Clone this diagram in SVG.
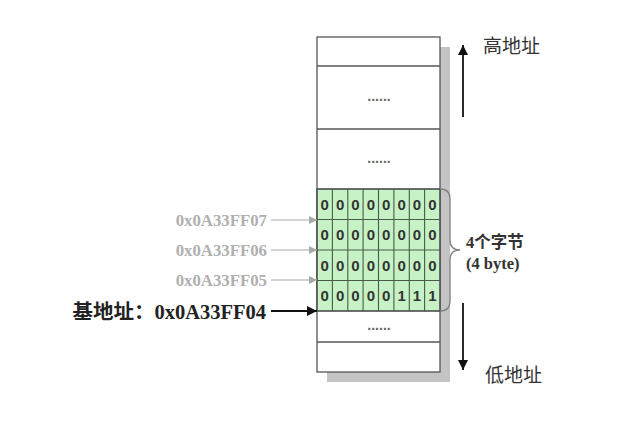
<svg xmlns="http://www.w3.org/2000/svg" width="637" height="434" viewBox="0 0 637 434">
<defs>
<style>
.box{fill:#fff;stroke:#555;stroke-width:1.3}
.cell{fill:#c6f2c6;stroke:#4a5a4a;stroke-width:1.1}
.dig{font-family:"Liberation Sans",Arial,sans-serif;font-weight:bold;font-size:15px;fill:#333;text-anchor:middle}
.dots{font-family:"Liberation Sans",Arial,sans-serif;font-weight:bold;font-size:14px;fill:#666;text-anchor:middle}
.addr{font-family:"Liberation Serif","Times New Roman",serif;font-weight:bold;font-size:16.8px;fill:#b0b0b0;text-anchor:end}
.base{font-family:"Liberation Serif","Noto Sans CJK SC",serif;font-weight:bold;font-size:20.5px;fill:#222;text-anchor:end}
.lbl{font-family:"Liberation Serif","Noto Sans CJK SC",serif;font-size:19px;fill:#333}
.brace{font-family:"Liberation Serif","Noto Sans CJK SC",serif;font-weight:bold;font-size:16.5px;fill:#333}
.garr{stroke:#a8a8a8;stroke-width:1.2;fill:none}
.barr{stroke:#111;stroke-width:1.8;fill:none}
</style>
<marker id="ag" viewBox="0 0 10 10" refX="10" refY="5" markerWidth="8" markerHeight="8" markerUnits="userSpaceOnUse" orient="auto"><path d="M0,0 L10,5 L0,10 z" fill="#a8a8a8"/></marker>
<marker id="ab" viewBox="0 0 10 10" refX="10" refY="5" markerWidth="10" markerHeight="10" markerUnits="userSpaceOnUse" orient="auto"><path d="M0,0 L10,5 L0,10 z" fill="#111"/></marker>
</defs>
<rect width="637" height="434" fill="#fff"/>
<g id="memory">
<rect x="327" y="47" width="123" height="335" fill="#c4c4c4"/>
<rect class="box" x="317" y="37" width="123" height="335"/>
<line class="box" x1="317" y1="66" x2="440" y2="66"/>
<line class="box" x1="317" y1="129" x2="440" y2="129"/>
<line class="box" x1="317" y1="342" x2="440" y2="342"/>
<text class="dots" x="379" y="101">......</text>
<text class="dots" x="379" y="163">......</text>
<text class="dots" x="379" y="330">......</text>
</g>
<g id="bytes">
<rect class="cell" x="317" y="189" width="123" height="122"/>
<g class="cell">
<line x1="317" y1="219.5" x2="440" y2="219.5"/>
<line x1="317" y1="250" x2="440" y2="250"/>
<line x1="317" y1="280.5" x2="440" y2="280.5"/>
<line x1="332.4" y1="189" x2="332.4" y2="311"/>
<line x1="347.8" y1="189" x2="347.8" y2="311"/>
<line x1="363.1" y1="189" x2="363.1" y2="311"/>
<line x1="378.5" y1="189" x2="378.5" y2="311"/>
<line x1="393.9" y1="189" x2="393.9" y2="311"/>
<line x1="409.3" y1="189" x2="409.3" y2="311"/>
<line x1="424.6" y1="189" x2="424.6" y2="311"/>
</g>
<rect x="317" y="189" width="123" height="122" fill="none" stroke="#555" stroke-width="1.3"/>
<g class="dig">
<text x="324.7" y="209.8">0</text><text x="340.1" y="209.8">0</text><text x="355.5" y="209.8">0</text><text x="370.8" y="209.8">0</text><text x="386.2" y="209.8">0</text><text x="401.6" y="209.8">0</text><text x="417" y="209.8">0</text><text x="432.3" y="209.8">0</text>
<text x="324.7" y="240.3">0</text><text x="340.1" y="240.3">0</text><text x="355.5" y="240.3">0</text><text x="370.8" y="240.3">0</text><text x="386.2" y="240.3">0</text><text x="401.6" y="240.3">0</text><text x="417" y="240.3">0</text><text x="432.3" y="240.3">0</text>
<text x="324.7" y="270.8">0</text><text x="340.1" y="270.8">0</text><text x="355.5" y="270.8">0</text><text x="370.8" y="270.8">0</text><text x="386.2" y="270.8">0</text><text x="401.6" y="270.8">0</text><text x="417" y="270.8">0</text><text x="432.3" y="270.8">0</text>
<text x="324.7" y="301.3">0</text><text x="340.1" y="301.3">0</text><text x="355.5" y="301.3">0</text><text x="370.8" y="301.3">0</text><text x="386.2" y="301.3">0</text><text x="401.6" y="301.3">1</text><text x="417" y="301.3">1</text><text x="432.3" y="301.3">1</text>
</g>
</g>
<g id="labels-left">
<text class="addr" x="267" y="225.5">0x0A33FF07</text>
<text class="addr" x="267" y="255.5">0x0A33FF06</text>
<text class="addr" x="267" y="285.5">0x0A33FF05</text>
<text class="base" x="266" y="318.5">基地址：0x0A33FF04</text>
</g>
<g id="brace-label">
<path d="M440,189 Q450,189 450,199 L450,240 Q450,250 460,250 Q450,250 450,260 L450,301 Q450,311 440,311" fill="none" stroke="#808080" stroke-width="1.3"/>
<text class="brace" x="466" y="247.5">4个字节</text>
<text class="brace" x="466" y="269">(4 byte)</text>
</g>
<g id="high">
<text class="lbl" x="483" y="53">高地址</text>
</g>
<g id="low">
<text class="lbl" x="485" y="382">低地址</text>
</g>
<g id="connectors">
<line class="garr" x1="271" y1="220" x2="317" y2="220" marker-end="url(#ag)"/>
<line class="garr" x1="271" y1="250" x2="317" y2="250" marker-end="url(#ag)"/>
<line class="garr" x1="271" y1="280" x2="317" y2="280" marker-end="url(#ag)"/>
<line class="barr" x1="271" y1="311" x2="317" y2="311" marker-end="url(#ab)"/>
<line class="barr" x1="463" y1="117" x2="463" y2="45" marker-end="url(#ab)"/>
<line class="barr" x1="463" y1="303" x2="463" y2="370" marker-end="url(#ab)"/>
</g>
</svg>
